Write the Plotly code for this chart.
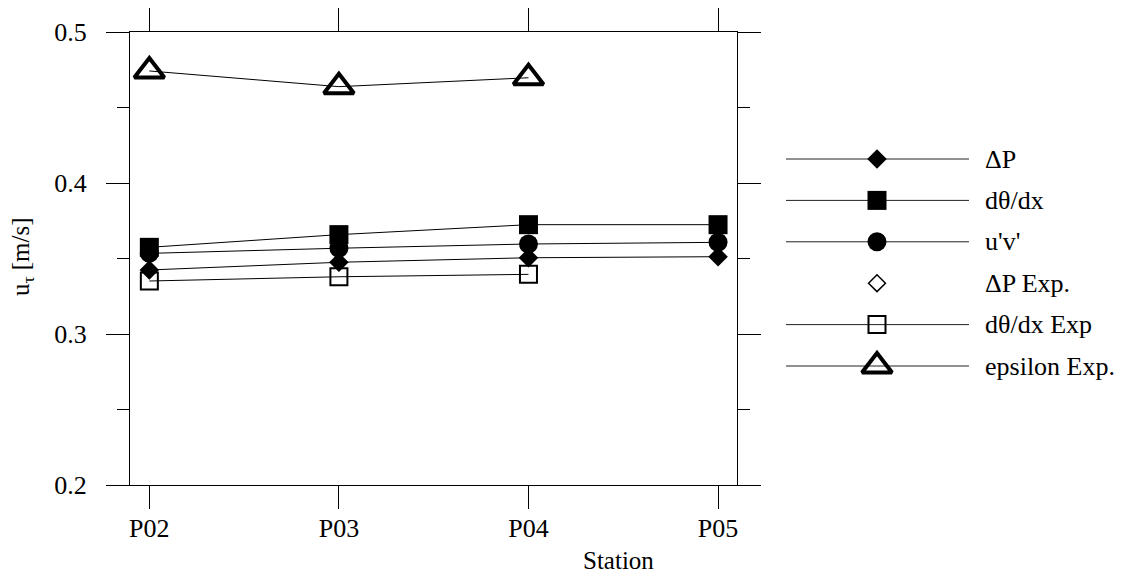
import plotly.graph_objects as go

stations = ["P02", "P03", "P04", "P05"]
dp = [0.3424, 0.3475, 0.3505, 0.3512]
dtheta_dx = [0.3574, 0.3658, 0.3724, 0.3724]
uv = [0.3534, 0.3568, 0.3596, 0.3607]
dp_exp = [None, None, None, None]
dtheta_dx_exp = [0.3351, 0.3379, 0.3395, None]
epsilon_exp = [0.4742, 0.4638, 0.4697, None]

y_ticks = [0.2, 0.3, 0.4, 0.5]

W, H = 1130, 576
FONT = "Liberation Serif"
BLACK = "#000000"

series = [
    ("\u0394P", dp, dict(symbol="diamond", size=15, color=BLACK, line=dict(width=0)), True),
    ("d\u03b8/dx", dtheta_dx, dict(symbol="square", size=19, color=BLACK, line=dict(width=0)), True),
    ("u'v'", uv, dict(symbol="circle", size=19, color=BLACK, line=dict(width=0)), True),
    ("\u0394P Exp.", dp_exp, dict(symbol="diamond-open", size=13, color=BLACK, line=dict(width=1.5, color=BLACK)), False),
    ("d\u03b8/dx Exp", dtheta_dx_exp, dict(symbol="square-open", size=17, color=BLACK, line=dict(width=2, color=BLACK)), True),
    ("epsilon Exp.", epsilon_exp, dict(symbol="triangle-up-open", size=26, color=BLACK, line=dict(width=4, color=BLACK)), True),
]

fig = go.Figure()

for name, vals, mk, has_line in series:
    fig.add_trace(go.Scatter(
        x=stations, y=vals, name=name,
        mode="lines+markers" if has_line else "markers",
        line=dict(color=BLACK, width=1),
        marker=mk, cliponaxis=False, showlegend=False,
    ))

# manual legend (pixel coordinates on a hidden overlay axis)
leg_x0, leg_xm, leg_x1, leg_tx = 786, 877, 969, 983
row0, row_step = 159, 41.4
shapes = []
annotations = []
for i, (name, vals, mk, has_line) in enumerate(series):
    ry = row0 + i * row_step
    if has_line:
        shapes.append(dict(type="line", xref="x2", yref="y2", x0=leg_x0, x1=leg_x1, y0=ry, y1=ry,
                           line=dict(color="#222222", width=1), layer="below"))
    fig.add_trace(go.Scatter(x=[leg_xm], y=[ry], mode="markers", marker=mk,
                             xaxis="x2", yaxis="y2", showlegend=False, hoverinfo="skip"))
    annotations.append(dict(x=leg_tx, y=ry, xref="x2", yref="y2", text=name, showarrow=False,
                            xanchor="left", yanchor="middle", font=dict(family=FONT, size=26, color=BLACK)))

annotations.append(dict(x=618 / W, y=1 - 560 / H, xref="paper", yref="paper", text="Station",
                        showarrow=False, xanchor="center", yanchor="middle",
                        font=dict(family=FONT, size=25, color=BLACK)))
annotations.append(dict(x=22 / W, y=1 - 257 / H, xref="paper", yref="paper", text="u<sub>\u03c4</sub> [m/s]",
                        textangle=-90, showarrow=False, xanchor="center", yanchor="middle",
                        font=dict(family=FONT, size=25, color=BLACK)))

axis_common = dict(showline=True, linecolor=BLACK, linewidth=1, mirror="allticks", ticks="outside",
                   ticklen=23, tickwidth=1, tickcolor=BLACK, showgrid=False, zeroline=False,
                   automargin=False,
                   tickfont=dict(family=FONT, size=26, color=BLACK))

fig.update_layout(
    template="none",
    width=W, height=H,
    margin=dict(l=0, r=0, t=0, b=0, autoexpand=False),
    paper_bgcolor="white", plot_bgcolor="rgba(0,0,0,0)",
    font=dict(family=FONT, color=BLACK),
    showlegend=False,
    xaxis=dict(domain=[130 / W, 737 / W], type="category", categoryorder="array", categoryarray=stations,
               range=[-0.102, 3.1], ticklabelstandoff=-3, **axis_common),
    yaxis=dict(domain=[1 - 485 / H, 1 - 32 / H], range=[0.2, 0.5], tickvals=y_ticks, tickformat=".1f",
               ticklabelstandoff=14,
               minor=dict(tickvals=[0.25, 0.35, 0.45], ticks="outside", ticklen=12, tickwidth=1,
                          tickcolor=BLACK, showgrid=False),
               **axis_common),
    xaxis2=dict(domain=[0, 1], range=[0, W], visible=False, anchor="y2", automargin=False),
    yaxis2=dict(domain=[0, 1], range=[H, 0], visible=False, anchor="x2", automargin=False),
    shapes=shapes,
    annotations=annotations,
)

fig.write_html("out.html")
